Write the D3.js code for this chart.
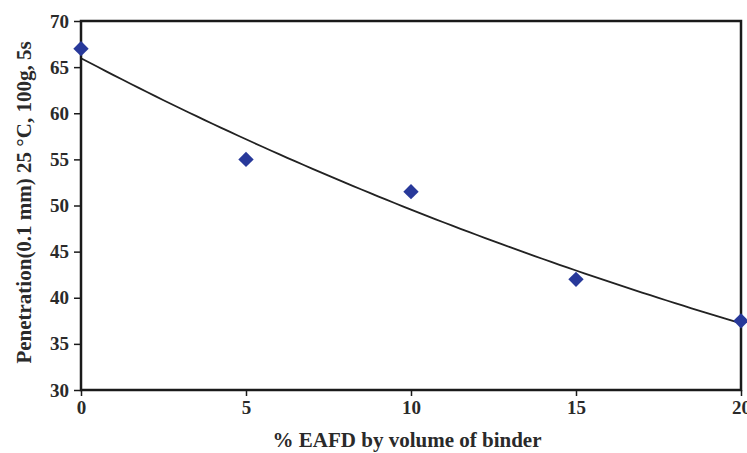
<html>
  <head>
    <meta charset="UTF-8">
    <script src="https://d3js.org/d3.v7.min.js"></script>
    <style>
      body { margin: 0; background: #fff; }
      svg { font-family: "Liberation Serif", "Times New Roman", serif; font-weight: bold; }
    </style>
  </head>
  <body>
    <svg width="747" height="453"></svg>
    <script>
      const eafd = [0, 5, 10, 15, 20];
      const penetration = [67, 55, 51.5, 42, 37.5];
      const xTicks = [0, 5, 10, 15, 20];
      const yTicks = [30, 35, 40, 45, 50, 55, 60, 65, 70];

      const svg = d3.select("svg");
      const plotL = 81, plotR = 741, plotT = 21, plotB = 390;

      const x = d3.scaleLinear().domain([0, 20]).range([plotL, plotR]);
      const y = d3.scaleLinear().domain([30, 70]).range([plotB, plotT]);

      // exponential trendline (least squares on ln y)
      const lny = penetration.map(Math.log);
      const mx = d3.mean(eafd), my = d3.mean(lny);
      const b = d3.sum(eafd, (d, i) => (d - mx) * (lny[i] - my)) / d3.sum(eafd, (d) => (d - mx) ** 2);
      const a = Math.exp(my - b * mx);
      const trend = d3.range(0, 20.01, 0.25).map((t) => [t, a * Math.exp(b * t)]);

      svg.append("path")
        .datum(trend)
        .attr("fill", "none")
        .attr("stroke", "#222")
        .attr("stroke-width", 1.8)
        .attr("d", d3.line().x((d) => x(d[0])).y((d) => y(d[1])));

      // frame
      svg.append("rect")
        .attr("x", plotL).attr("y", plotT)
        .attr("width", plotR - plotL).attr("height", plotB - plotT)
        .attr("fill", "none")
        .attr("stroke", "#1a1a1a")
        .attr("stroke-width", 2.5);

      const yAxis = svg.append("g")
        .attr("transform", `translate(${plotL},0)`)
        .call(d3.axisLeft(y).tickValues(yTicks).tickSize(7).tickPadding(5));
      const xAxis = svg.append("g")
        .attr("transform", `translate(0,${plotB})`)
        .call(d3.axisBottom(x).tickValues(xTicks).tickSize(6).tickPadding(5));

      [yAxis, xAxis].forEach((g) => {
        g.select(".domain").remove();
        g.selectAll("line").attr("stroke", "#1a1a1a").attr("stroke-width", 1.5);
        g.selectAll("text")
          .attr("fill", "#2a2a2a")
          .style("font-family", "'Liberation Serif', serif")
          .style("font-weight", "bold")
          .style("font-size", "19px");
      });

      svg.selectAll("path.pt")
        .data(eafd)
        .join("path")
        .attr("class", "pt")
        .attr("d", d3.symbol(d3.symbolDiamond2, 150))
        .attr("transform", (d, i) => `translate(${x(d)},${y(penetration[i])})`)
        .attr("fill", "#28399a");

      svg.append("text")
        .attr("x", (plotL + plotR) / 2 - 4)
        .attr("y", 447)
        .attr("text-anchor", "middle")
        .attr("fill", "#2a2a2a")
        .style("font-size", "21px")
        .text("% EAFD by volume of binder");

      svg.append("text")
        .attr("transform", `translate(31,${(plotT + plotB) / 2 - 3}) rotate(-90)`)
        .attr("text-anchor", "middle")
        .attr("fill", "#2a2a2a")
        .style("font-size", "21px")
        .text("Penetration(0.1 mm) 25 °C, 100g, 5s");
    </script>
  </body>
</html>
